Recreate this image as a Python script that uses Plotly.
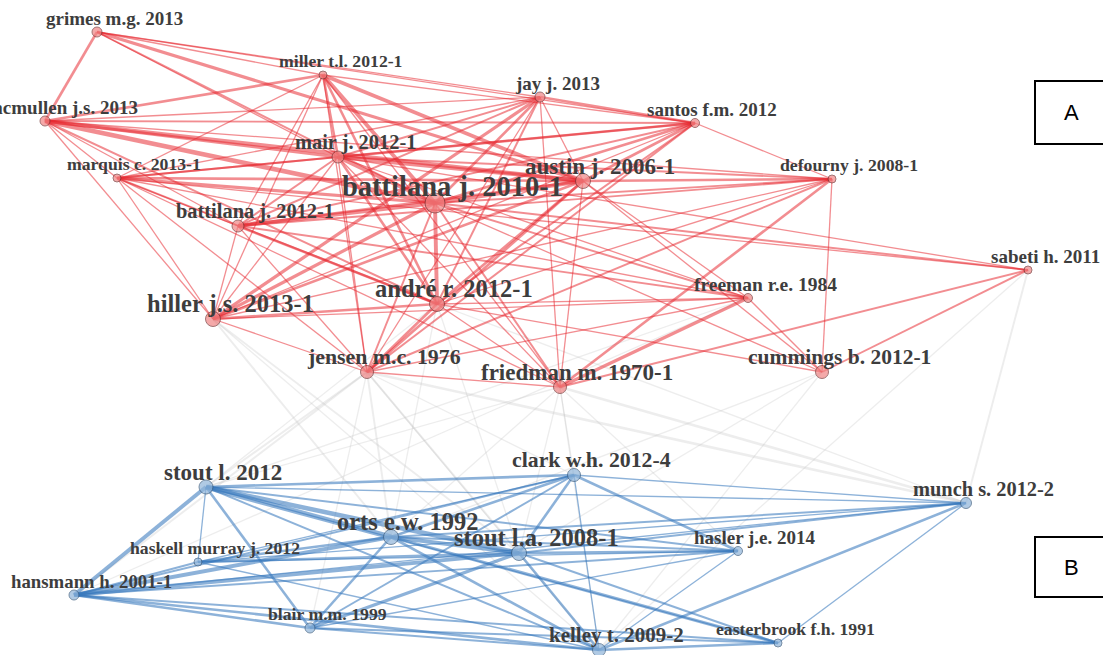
import plotly.graph_objects as go

# ---------------- data ----------------
red_names = ["grimes m.g. 2013", "miller t.l. 2012-1", "mcmullen j.s. 2013", "jay j. 2013",
             "santos f.m. 2012", "mair j. 2012-1", "marquis c. 2013-1", "austin j. 2006-1",
             "defourny j. 2008-1", "battilana j. 2010-1", "battilana j. 2012-1", "sabeti h. 2011",
             "freeman r.e. 1984", "hiller j.s. 2013-1", "andré r. 2012-1", "jensen m.c. 1976",
             "friedman m. 1970-1", "cummings b. 2012-1"]
red_x = [97, 323, 45, 540, 695, 338, 117, 583, 832, 435, 238, 1028, 748, 213, 437, 367, 560, 822]
red_y = [32, 75, 121, 97, 123, 157, 178, 181, 179, 203, 226, 270, 298, 319, 304, 372, 387, 372]
red_size = [10, 8, 10, 10, 9, 12, 8, 15, 8, 20, 12, 8, 9, 15, 15, 13, 13, 13]
red_font = [19, 17.7, 19, 19, 19, 20.4, 17.7, 23, 17.7, 28.5, 20.4, 19, 19.5, 24.5, 24.5, 21.8, 23, 21.5]

blue_names = ["stout l. 2012", "clark w.h. 2012-4", "munch s. 2012-2", "orts e.w. 1992",
              "stout l.a. 2008-1", "haskell murray j. 2012", "hasler j.e. 2014", "hansmann h. 2001-1",
              "blair m.m. 1999", "kelley t. 2009-2", "easterbrook f.h. 1991"]
blue_x = [206, 574, 966, 391, 519, 198, 738, 74, 310, 599, 778]
blue_y = [487, 475, 503, 537, 553, 562, 551, 595, 628, 650, 643]
blue_size = [14, 13, 11, 15, 15, 8, 9, 10, 10, 13, 8]
blue_font = [23, 21.8, 20.4, 24.5, 24.5, 17.7, 19, 18.8, 17.7, 21, 17.7]

red_edges = [
    ("grimes m.g. 2013", "mcmullen j.s. 2013", 2), ("grimes m.g. 2013", "battilana j. 2010-1", 1.5),
    ("grimes m.g. 2013", "santos f.m. 2012", 1), ("grimes m.g. 2013", "jay j. 2013", 1),
    ("grimes m.g. 2013", "austin j. 2006-1", 2.5), ("grimes m.g. 2013", "mair j. 2012-1", 1),
    ("grimes m.g. 2013", "miller t.l. 2012-1", 1),
    ("mcmullen j.s. 2013", "miller t.l. 2012-1", 2), ("mcmullen j.s. 2013", "battilana j. 2010-1", 3.5),
    ("mcmullen j.s. 2013", "austin j. 2006-1", 3), ("mcmullen j.s. 2013", "mair j. 2012-1", 2.5),
    ("mcmullen j.s. 2013", "santos f.m. 2012", 1.5), ("mcmullen j.s. 2013", "marquis c. 2013-1", 1),
    ("mcmullen j.s. 2013", "battilana j. 2012-1", 1), ("mcmullen j.s. 2013", "hiller j.s. 2013-1", 1),
    ("mcmullen j.s. 2013", "andré r. 2012-1", 1.5), ("mcmullen j.s. 2013", "jay j. 2013", 1),
    ("mcmullen j.s. 2013", "defourny j. 2008-1", 1),
    ("miller t.l. 2012-1", "battilana j. 2010-1", 3), ("miller t.l. 2012-1", "austin j. 2006-1", 3),
    ("miller t.l. 2012-1", "santos f.m. 2012", 1), ("miller t.l. 2012-1", "mair j. 2012-1", 2),
    ("miller t.l. 2012-1", "marquis c. 2013-1", 1), ("miller t.l. 2012-1", "battilana j. 2012-1", 1),
    ("miller t.l. 2012-1", "andré r. 2012-1", 2), ("miller t.l. 2012-1", "hiller j.s. 2013-1", 1),
    ("miller t.l. 2012-1", "jensen m.c. 1976", 1), ("miller t.l. 2012-1", "friedman m. 1970-1", 1),
    ("jay j. 2013", "battilana j. 2010-1", 2), ("jay j. 2013", "hiller j.s. 2013-1", 2.5),
    ("jay j. 2013", "battilana j. 2012-1", 1.5), ("jay j. 2013", "mair j. 2012-1", 1.5),
    ("jay j. 2013", "marquis c. 2013-1", 1), ("jay j. 2013", "andré r. 2012-1", 1.5),
    ("jay j. 2013", "austin j. 2006-1", 1), ("jay j. 2013", "santos f.m. 2012", 2),
    ("jay j. 2013", "friedman m. 1970-1", 1), ("jay j. 2013", "jensen m.c. 1976", 1),
    ("santos f.m. 2012", "mair j. 2012-1", 2), ("santos f.m. 2012", "battilana j. 2010-1", 2),
    ("santos f.m. 2012", "austin j. 2006-1", 2), ("santos f.m. 2012", "marquis c. 2013-1", 1.5),
    ("santos f.m. 2012", "battilana j. 2012-1", 1.5), ("santos f.m. 2012", "andré r. 2012-1", 1.5),
    ("santos f.m. 2012", "defourny j. 2008-1", 1), ("santos f.m. 2012", "jensen m.c. 1976", 1.5),
    ("santos f.m. 2012", "hiller j.s. 2013-1", 1),
    ("mair j. 2012-1", "battilana j. 2010-1", 3), ("mair j. 2012-1", "austin j. 2006-1", 3),
    ("mair j. 2012-1", "marquis c. 2013-1", 1.5), ("mair j. 2012-1", "battilana j. 2012-1", 1.5),
    ("mair j. 2012-1", "andré r. 2012-1", 2), ("mair j. 2012-1", "hiller j.s. 2013-1", 1),
    ("mair j. 2012-1", "defourny j. 2008-1", 1.5), ("mair j. 2012-1", "jensen m.c. 1976", 1),
    ("mair j. 2012-1", "friedman m. 1970-1", 1), ("mair j. 2012-1", "freeman r.e. 1984", 1),
    ("marquis c. 2013-1", "battilana j. 2010-1", 2.5), ("marquis c. 2013-1", "austin j. 2006-1", 2),
    ("marquis c. 2013-1", "battilana j. 2012-1", 1), ("marquis c. 2013-1", "andré r. 2012-1", 1.5),
    ("marquis c. 2013-1", "hiller j.s. 2013-1", 1), ("marquis c. 2013-1", "jensen m.c. 1976", 1),
    ("marquis c. 2013-1", "friedman m. 1970-1", 1), ("marquis c. 2013-1", "freeman r.e. 1984", 1),
    ("marquis c. 2013-1", "sabeti h. 2011", 1),
    ("austin j. 2006-1", "battilana j. 2010-1", 3), ("austin j. 2006-1", "battilana j. 2012-1", 2),
    ("austin j. 2006-1", "andré r. 2012-1", 2), ("austin j. 2006-1", "defourny j. 2008-1", 2),
    ("austin j. 2006-1", "hiller j.s. 2013-1", 2), ("austin j. 2006-1", "jensen m.c. 1976", 2),
    ("austin j. 2006-1", "freeman r.e. 1984", 1), ("austin j. 2006-1", "cummings b. 2012-1", 1),
    ("austin j. 2006-1", "friedman m. 1970-1", 1),
    ("battilana j. 2010-1", "battilana j. 2012-1", 3), ("battilana j. 2010-1", "andré r. 2012-1", 3),
    ("battilana j. 2010-1", "hiller j.s. 2013-1", 2.5), ("battilana j. 2010-1", "jensen m.c. 1976", 1.5),
    ("battilana j. 2010-1", "friedman m. 1970-1", 1.5), ("battilana j. 2010-1", "freeman r.e. 1984", 1.5),
    ("battilana j. 2010-1", "defourny j. 2008-1", 1.5), ("battilana j. 2010-1", "cummings b. 2012-1", 1),
    ("battilana j. 2010-1", "sabeti h. 2011", 1.5),
    ("battilana j. 2012-1", "andré r. 2012-1", 2), ("battilana j. 2012-1", "hiller j.s. 2013-1", 1),
    ("battilana j. 2012-1", "freeman r.e. 1984", 1.5), ("battilana j. 2012-1", "defourny j. 2008-1", 1.5),
    ("battilana j. 2012-1", "jensen m.c. 1976", 1),
    ("defourny j. 2008-1", "andré r. 2012-1", 1), ("defourny j. 2008-1", "friedman m. 1970-1", 2),
    ("defourny j. 2008-1", "hiller j.s. 2013-1", 1), ("defourny j. 2008-1", "jensen m.c. 1976", 1.5),
    ("defourny j. 2008-1", "cummings b. 2012-1", 1),
    ("andré r. 2012-1", "hiller j.s. 2013-1", 2), ("andré r. 2012-1", "jensen m.c. 1976", 2),
    ("andré r. 2012-1", "friedman m. 1970-1", 1), ("andré r. 2012-1", "freeman r.e. 1984", 1),
    ("andré r. 2012-1", "cummings b. 2012-1", 1),
    ("freeman r.e. 1984", "friedman m. 1970-1", 2.5), ("freeman r.e. 1984", "hiller j.s. 2013-1", 1),
    ("freeman r.e. 1984", "jensen m.c. 1976", 1), ("freeman r.e. 1984", "cummings b. 2012-1", 1),
    ("sabeti h. 2011", "friedman m. 1970-1", 1.5), ("sabeti h. 2011", "cummings b. 2012-1", 1.5),
    ("sabeti h. 2011", "mair j. 2012-1", 1),
    ("hiller j.s. 2013-1", "jensen m.c. 1976", 1), ("jensen m.c. 1976", "friedman m. 1970-1", 1),
]

blue_edges = [
    ("stout l. 2012", "orts e.w. 1992", 4), ("stout l. 2012", "stout l.a. 2008-1", 3.5),
    ("stout l. 2012", "clark w.h. 2012-4", 2), ("stout l. 2012", "hansmann h. 2001-1", 3),
    ("stout l. 2012", "haskell murray j. 2012", 1), ("stout l. 2012", "blair m.m. 1999", 2),
    ("stout l. 2012", "munch s. 2012-2", 1), ("stout l. 2012", "hasler j.e. 2014", 1.5),
    ("stout l. 2012", "kelley t. 2009-2", 1.5), ("stout l. 2012", "easterbrook f.h. 1991", 1),
    ("clark w.h. 2012-4", "orts e.w. 1992", 2), ("clark w.h. 2012-4", "stout l.a. 2008-1", 2),
    ("clark w.h. 2012-4", "hansmann h. 2001-1", 1.5), ("clark w.h. 2012-4", "haskell murray j. 2012", 1),
    ("clark w.h. 2012-4", "hasler j.e. 2014", 2), ("clark w.h. 2012-4", "kelley t. 2009-2", 1),
    ("clark w.h. 2012-4", "blair m.m. 1999", 1.5), ("clark w.h. 2012-4", "munch s. 2012-2", 1),
    ("orts e.w. 1992", "stout l.a. 2008-1", 3), ("orts e.w. 1992", "hansmann h. 2001-1", 3),
    ("orts e.w. 1992", "haskell murray j. 2012", 2), ("orts e.w. 1992", "blair m.m. 1999", 2),
    ("orts e.w. 1992", "kelley t. 2009-2", 2), ("orts e.w. 1992", "easterbrook f.h. 1991", 2.5),
    ("orts e.w. 1992", "hasler j.e. 2014", 1.5), ("orts e.w. 1992", "munch s. 2012-2", 1.5),
    ("stout l.a. 2008-1", "hansmann h. 2001-1", 3), ("stout l.a. 2008-1", "haskell murray j. 2012", 2),
    ("stout l.a. 2008-1", "blair m.m. 1999", 2.5), ("stout l.a. 2008-1", "kelley t. 2009-2", 2),
    ("stout l.a. 2008-1", "hasler j.e. 2014", 2), ("stout l.a. 2008-1", "munch s. 2012-2", 1.5),
    ("stout l.a. 2008-1", "easterbrook f.h. 1991", 1.5),
    ("hansmann h. 2001-1", "haskell murray j. 2012", 1.5), ("hansmann h. 2001-1", "blair m.m. 1999", 2),
    ("hansmann h. 2001-1", "kelley t. 2009-2", 2), ("hansmann h. 2001-1", "easterbrook f.h. 1991", 1.5),
    ("hansmann h. 2001-1", "hasler j.e. 2014", 1.5), ("hansmann h. 2001-1", "munch s. 2012-2", 1),
    ("haskell murray j. 2012", "hasler j.e. 2014", 1), ("haskell murray j. 2012", "munch s. 2012-2", 1),
    ("haskell murray j. 2012", "kelley t. 2009-2", 1),
    ("blair m.m. 1999", "kelley t. 2009-2", 1.5), ("blair m.m. 1999", "easterbrook f.h. 1991", 1.5),
    ("blair m.m. 1999", "hasler j.e. 2014", 1),
    ("kelley t. 2009-2", "munch s. 2012-2", 2), ("kelley t. 2009-2", "easterbrook f.h. 1991", 2),
    ("kelley t. 2009-2", "hasler j.e. 2014", 1), ("munch s. 2012-2", "easterbrook f.h. 1991", 1),
]

gray_edges = [
    ("hiller j.s. 2013-1", "orts e.w. 1992", 1.5), ("hiller j.s. 2013-1", "stout l.a. 2008-1", 1.5),
    ("hiller j.s. 2013-1", "kelley t. 2009-2", 1),
    ("jensen m.c. 1976", "stout l. 2012", 1.5), ("jensen m.c. 1976", "orts e.w. 1992", 1.5),
    ("jensen m.c. 1976", "stout l.a. 2008-1", 1.5), ("jensen m.c. 1976", "hansmann h. 2001-1", 1.5),
    ("jensen m.c. 1976", "clark w.h. 2012-4", 1), ("jensen m.c. 1976", "kelley t. 2009-2", 1),
    ("jensen m.c. 1976", "blair m.m. 1999", 1), ("jensen m.c. 1976", "munch s. 2012-2", 2),
    ("friedman m. 1970-1", "clark w.h. 2012-4", 1), ("friedman m. 1970-1", "orts e.w. 1992", 1),
    ("friedman m. 1970-1", "stout l.a. 2008-1", 1), ("friedman m. 1970-1", "munch s. 2012-2", 2),
    ("friedman m. 1970-1", "kelley t. 2009-2", 1), ("friedman m. 1970-1", "hasler j.e. 2014", 1),
    ("friedman m. 1970-1", "stout l. 2012", 1),
    ("cummings b. 2012-1", "stout l.a. 2008-1", 1), ("cummings b. 2012-1", "kelley t. 2009-2", 1),
    ("cummings b. 2012-1", "orts e.w. 1992", 1),
    ("sabeti h. 2011", "munch s. 2012-2", 1.5), ("sabeti h. 2011", "kelley t. 2009-2", 1),
    ("andré r. 2012-1", "orts e.w. 1992", 1), ("andré r. 2012-1", "stout l.a. 2008-1", 1),
    ("andré r. 2012-1", "munch s. 2012-2", 1), ("andré r. 2012-1", "stout l. 2012", 1),
    ("freeman r.e. 1984", "stout l. 2012", 1), ("freeman r.e. 1984", "hansmann h. 2001-1", 1),
]

box_labels = ["A", "B"]

# ---------------- build ----------------
WIDTH_SCALE = 1.3

pos = {}
for n, x, y in zip(red_names, red_x, red_y):
    pos[n] = (x, y)
for n, x, y in zip(blue_names, blue_x, blue_y):
    pos[n] = (x, y)

fig = go.Figure()


def add_edges(edges, color):
    groups = {}
    for a, b, w in edges:
        groups.setdefault(w, []).append((a, b))
    for w in sorted(groups):
        xs, ys = [], []
        for a, b in groups[w]:
            xs += [pos[a][0], pos[b][0], None]
            ys += [pos[a][1], pos[b][1], None]
        fig.add_trace(go.Scatter(x=xs, y=ys, mode="lines",
                                 line=dict(color=color, width=w * WIDTH_SCALE),
                                 hoverinfo="skip", showlegend=False))


add_edges(gray_edges, "rgba(190,190,190,0.28)")
add_edges(red_edges, "rgba(230,40,48,0.53)")
add_edges(blue_edges, "rgba(55,120,188,0.57)")

fig.add_trace(go.Scatter(x=red_x, y=red_y, mode="markers", text=red_names, hoverinfo="text",
                         marker=dict(size=red_size, color="#f08585",
                                     line=dict(color="#7a3a3a", width=1)),
                         showlegend=False))
fig.add_trace(go.Scatter(x=blue_x, y=blue_y, mode="markers", text=blue_names, hoverinfo="text",
                         marker=dict(size=blue_size, color="#90b5da",
                                     line=dict(color="#3f5f80", width=1)),
                         showlegend=False))

annotations = []
for names, xs, ys, fonts in [(red_names, red_x, red_y, red_font),
                             (blue_names, blue_x, blue_y, blue_font)]:
    for n, x, y, fs in zip(names, xs, ys, fonts):
        annotations.append(dict(x=x, y=y, xref="x", yref="y", text="<b>" + n + "</b>",
                                showarrow=False, xanchor="center", yanchor="bottom",
                                xshift=17, yshift=6 - 0.25 * fs,
                                font=dict(family="Liberation Serif", size=fs, color="#3d3d3d")))

# boxes A and B
for lab, (y0, y1) in zip(box_labels, [(81, 144), (537, 597)]):
    fig.add_shape(type="rect", x0=1035, x1=1110, y0=y0, y1=y1, xref="x", yref="y",
                  line=dict(color="black", width=2), fillcolor="white")
    annotations.append(dict(x=1071, y=(y0 + y1) / 2, xref="x", yref="y", text=lab,
                            showarrow=False, font=dict(family="Liberation Sans", size=22, color="black")))

fig.update_layout(
    width=1103, height=655,
    margin=dict(l=0, r=0, t=0, b=0),
    paper_bgcolor="white", plot_bgcolor="white",
    xaxis=dict(range=[0, 1103], visible=False, fixedrange=True),
    yaxis=dict(range=[655, 0], visible=False, fixedrange=True),
    annotations=annotations,
    showlegend=False,
)

fig.write_html("out.html", config={"displayModeBar": False},
               post_script="document.body.style.margin='0';")
